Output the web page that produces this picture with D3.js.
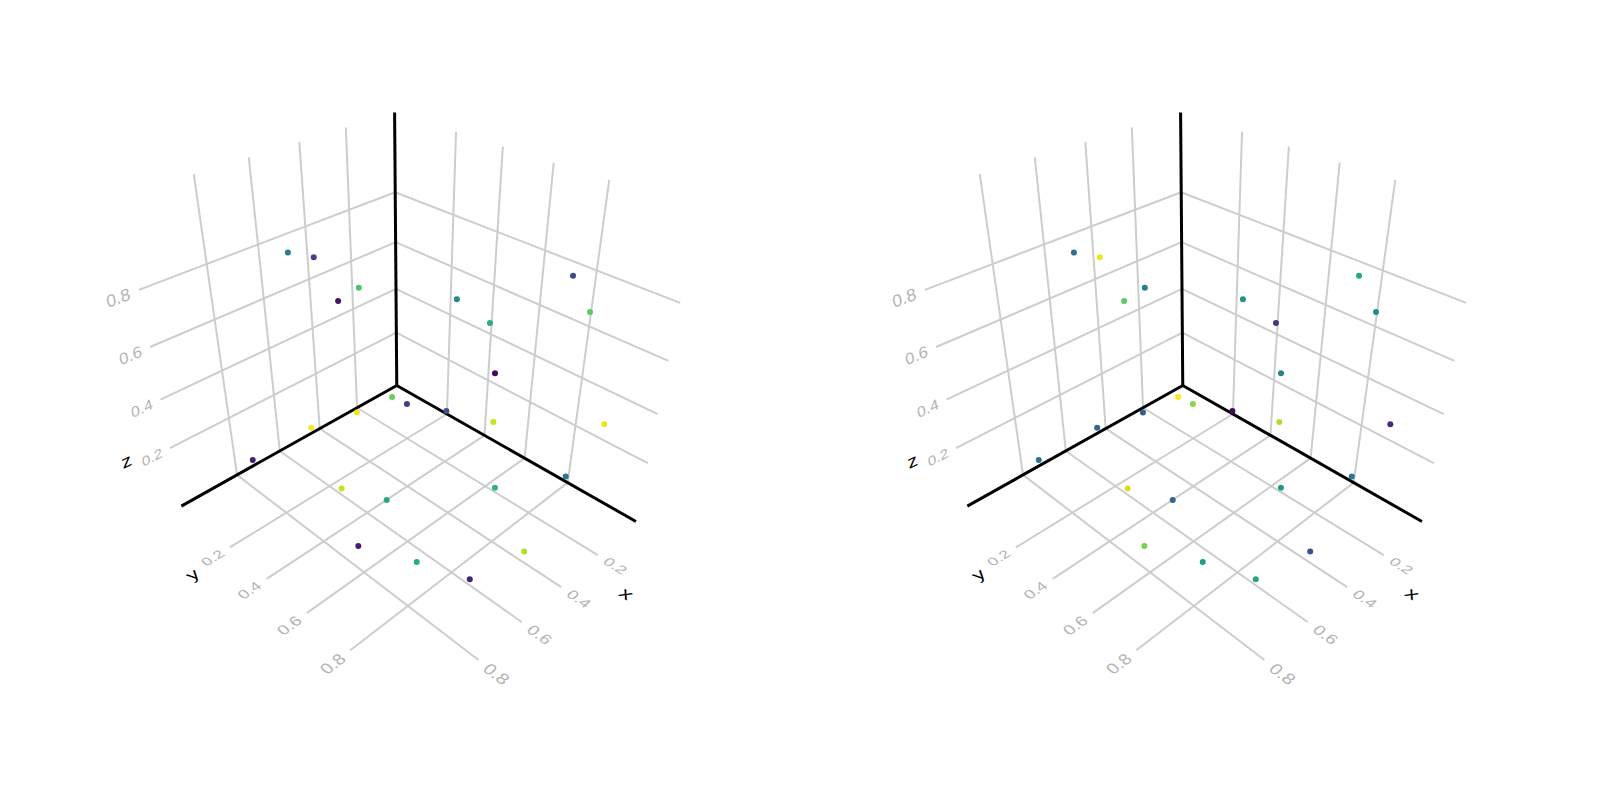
<!DOCTYPE html>
<html>
<head>
<meta charset="utf-8">
<script src="https://cdn.jsdelivr.net/npm/d3@7"></script>
<style>
body { margin: 0; background: #fff; }
text { font-family: "Liberation Sans", Arial, sans-serif; }
</style>
</head>
<body>
<div id="chart"></div>
<script>
var xs = [0.709,0.639,0.552,0.641,0.542,0.632,0.742,0.883,0.394,0.409,0.394,0.212,0.539,0.473,0.391,0.133,0.218,0.482,0.256,0.808,0.772,0.886,0.493,0.843,0.721];
var ys = [0.215,0.246,0.344,0.350,0.473,0.404,0.304,0.160,0.600,0.742,0.761,0.943,0.536,0.643,0.765,1.000,0.940,0.860,0.901,0.520,0.683,0.677,0.999,0.878,0.976];
var zs = [0.912,0.884,0.786,0.778,0.442,0.392,0.337,0.201,0.785,0.769,0.598,0.807,0.445,0.439,0.418,0.397,0.200,0.265,0.922,0.253,0.286,0.171,0.098,0.219,0.131];
var colorLeft = [0.42,0.20,0.72,0.05,0.77,0.98,1.00,0.08,0.48,0.62,0.02,0.75,0.17,0.25,0.92,0.97,0.40,0.65,0.22,0.92,0.60,0.08,0.88,0.62,0.10];
var colorRight = [0.36,0.97,0.42,0.75,1.00,0.30,0.33,0.37,0.50,0.17,0.45,0.48,0.82,0.02,0.88,0.12,0.40,0.55,0.60,0.93,0.33,0.80,0.25,0.55,0.60];
var ticks = [0.2, 0.4, 0.6, 0.8];

// axis limits of the box
var xlo = -0.0280, xhi = 1.0409;
var ylo = -0.0891, yhi = 1.0902;
var zlo = -0.0609, zhi = 1.0920;

// camera, fitted to the grid of the left panel
var cam = [-236.1919, 107.0918, -64.25288, 407.0063,
           35.19990, 35.35994, -261.2085, 384.6394,
           -0.1596403, -0.1595680, -0.1579262, 1];

function project(p) {
    var w = cam[8] * p[0] + cam[9] * p[1] + cam[10] * p[2] + cam[11];
    return [
        (cam[0] * p[0] + cam[1] * p[1] + cam[2] * p[2] + cam[3]) / w,
        (cam[4] * p[0] + cam[5] * p[1] + cam[6] * p[2] + cam[7]) / w
    ];
}

var line3d = d3.line()
    .x(function(d) { return project(d)[0]; })
    .y(function(d) { return project(d)[1]; });

var color = d3.scaleSequential(d3.interpolateViridis).domain([0, 1]);

// text lying in a plane of the box: ex is the baseline, ey the glyph's up
var fontPx = 20;
function planar(o, ex, ey, em) {
    var h = 0.01, k = em / fontPx / h;
    var p0 = project(o);
    var px = project([o[0] + ex[0] * h, o[1] + ex[1] * h, o[2] + ex[2] * h]);
    var py = project([o[0] + ey[0] * h, o[1] + ey[1] * h, o[2] + ey[2] * h]);
    return "matrix(" + [(px[0] - p0[0]) * k, (px[1] - p0[1]) * k,
        -(py[0] - p0[0]) * k, -(py[1] - p0[1]) * k, p0[0], p0[1]].join(",") + ")";
}

var svg = d3.select("#chart").append("svg")
    .attr("width", 1600)
    .attr("height", 800);

function panel(dx, values) {
    var g = svg.append("g").attr("transform", "translate(" + dx + ",0)");

    var grid = [];
    ticks.forEach(function(t) {
        grid.push([[t, ylo, zlo], [t, yhi, zlo]]);
        grid.push([[t, ylo, zlo], [t, ylo, zhi]]);
        grid.push([[xlo, t, zlo], [xhi, t, zlo]]);
        grid.push([[xlo, t, zlo], [xlo, t, zhi]]);
        grid.push([[xlo, ylo, t], [xhi, ylo, t]]);
        grid.push([[xlo, ylo, t], [xlo, yhi, t]]);
    });

    g.selectAll(".grid")
        .data(grid)
        .enter().append("path")
        .attr("class", "grid")
        .attr("d", line3d)
        .style("fill", "none")
        .style("stroke", "#cdcdcd")
        .style("stroke-width", 2);

    var axes = [
        [[xlo, ylo, zlo], [xhi, ylo, zlo]],
        [[xlo, ylo, zlo], [xlo, yhi, zlo]],
        [[xlo, ylo, zlo], [xlo, ylo, zhi]]
    ];

    g.selectAll(".axis")
        .data(axes)
        .enter().append("path")
        .attr("class", "axis")
        .attr("d", line3d)
        .style("fill", "none")
        .style("stroke", "#000")
        .style("stroke-width", 3);

    var gap = 0.03, em = 0.056;

    function tickLabels(cls, anchor, where, ex, ey) {
        g.selectAll("." + cls)
            .data(ticks)
            .enter().append("text")
            .attr("class", cls)
            .attr("transform", function(t) { return planar(where(t), ex, ey, em); })
            .attr("dy", ".35em")
            .style("font-size", fontPx + "px")
            .style("fill", "#b3b3b3")
            .style("text-anchor", anchor)
            .text(function(t) { return t.toFixed(1); });
    }

    tickLabels("xtick", "start", function(t) { return [t, yhi + gap, zlo]; }, [0, 1, 0], [-1, 0, 0]);
    tickLabels("ytick", "end", function(t) { return [xhi + gap, t, zlo]; }, [-1, 0, 0], [0, -1, 0]);
    tickLabels("ztick", "end", function(t) { return [xhi + gap, ylo, t]; }, [-1, 0, 0], [0, 0, 1]);

    var names = [
        { s: "x", o: [0.280, 1.252, zlo], ex: [0, 1, 0], ey: [-1, 0, 0] },
        { s: "y", o: [1.199, 0.218, zlo], ex: [-1, 0, 0], ey: [0, -1, 0] },
        { s: "z", o: [1.198, ylo, 0.232], ex: [-1, 0, 0], ey: [0, 0, 1] }
    ];

    g.selectAll(".name")
        .data(names)
        .enter().append("text")
        .attr("class", "name")
        .attr("transform", function(d) { return planar(d.o, d.ex, d.ey, 0.07); })
        .attr("dy", ".3em")
        .style("font-size", fontPx + "px")
        .style("fill", "#000")
        .style("text-anchor", "middle")
        .text(function(d) { return d.s; });

    g.selectAll(".pt")
        .data(xs)
        .enter().append("circle")
        .attr("class", "pt")
        .attr("cx", function(d, i) { return project([xs[i], ys[i], zs[i]])[0]; })
        .attr("cy", function(d, i) { return project([xs[i], ys[i], zs[i]])[1]; })
        .attr("r", 3)
        .style("fill", function(d, i) { return color(values[i]); });
}

panel(0, colorLeft);
panel(786, colorRight);
</script>
</body>
</html>
